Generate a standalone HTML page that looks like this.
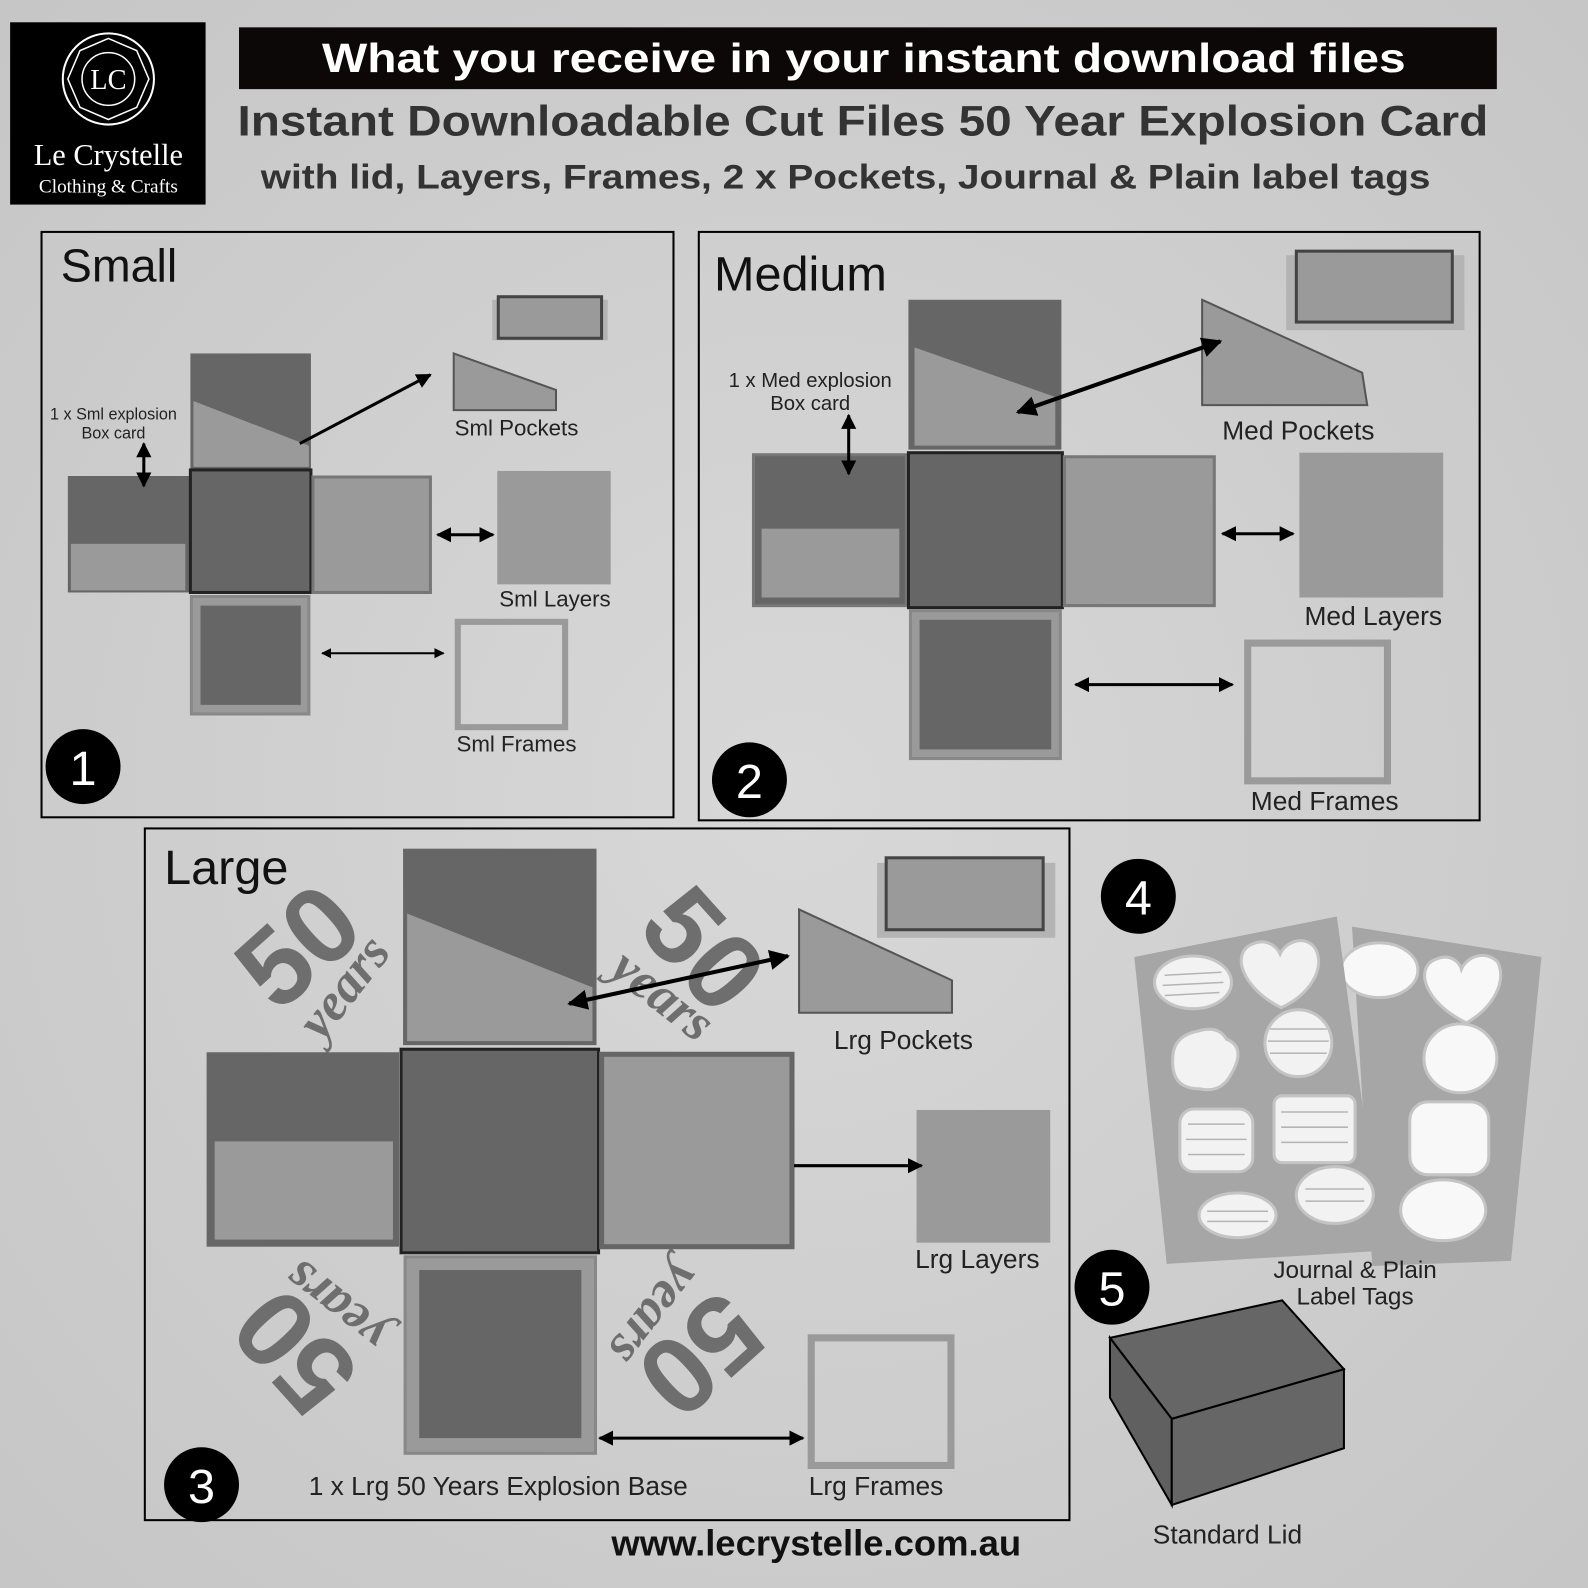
<!DOCTYPE html>
<html><head><meta charset="utf-8"><style>
html,body{margin:0;padding:0;background:#d3d3d3}
svg{display:block}
text{font-family:"Liberation Sans",Arial,sans-serif}
</style></head><body>
<svg width="1588" height="1588" viewBox="0 0 1568 1568" xmlns="http://www.w3.org/2000/svg" xmlns:xlink="http://www.w3.org/1999/xlink">
<defs>
<radialGradient id="bg" cx="50%" cy="50%" r="70%"><stop offset="0" stop-color="#d8d8d8"/><stop offset="1" stop-color="#c6c6c6"/></radialGradient>
<marker id="ah" viewBox="0 0 10 10" refX="9" refY="5" markerWidth="5" markerHeight="5" orient="auto-start-reverse"><path d="M0,0L10,5L0,10z" fill="#000"/></marker>
</defs>
<rect width="1568" height="1568" fill="url(#bg)"/>
<!-- logo -->
<rect x="10" y="22" width="193" height="180" fill="#000"/>
<circle cx="107" cy="78" r="45" fill="none" stroke="#fff" stroke-width="2"/>
<polygon points="107,38 135,50 147,78 135,106 107,118 79,106 67,78 79,50" fill="none" stroke="#fff" stroke-width="1.5"/>
<circle cx="107" cy="78" r="26" fill="none" stroke="#fff" stroke-width="1.5"/>
<text x="107" y="88" fill="#fff" font-size="28" text-anchor="middle" style="font-family:'Liberation Serif',serif">LC</text>
<text x="107" y="163" fill="#fff" font-size="30" text-anchor="middle" style="font-family:'Liberation Serif',serif">Le Crystelle</text>
<text x="107" y="190" fill="#fff" font-size="19" text-anchor="middle" style="font-family:'Liberation Serif',serif">Clothing &amp; Crafts</text>
<!-- titles -->
<rect x="236" y="27" width="1242" height="61" fill="#0c0808"/>
<text x="853" y="71" fill="#fff" font-size="40" font-weight="bold" text-anchor="middle" textLength="1070" lengthAdjust="spacingAndGlyphs">What you receive in your instant download files</text>
<text x="852" y="134" fill="#333" font-size="42" font-weight="bold" text-anchor="middle" textLength="1235" lengthAdjust="spacingAndGlyphs">Instant Downloadable Cut Files  50 Year Explosion Card</text>
<text x="835" y="186" fill="#333" font-size="34" font-weight="bold" text-anchor="middle" textLength="1155" lengthAdjust="spacingAndGlyphs">with lid, Layers, Frames, 2 x Pockets, Journal &amp; Plain label tags</text>

<g stroke-width="3">
<!-- SMALL -->
<rect x="41" y="229" width="624" height="578" fill="none" stroke="#000" stroke-width="2"/>
<text x="60" y="278" font-size="46" fill="#111">Small</text>
<rect x="188" y="349" width="119" height="115" fill="#666"/>
<polygon points="191,396 305,440 305,461 191,461" fill="#9a9a9a"/>
<rect x="67" y="470" width="120" height="115" fill="#666"/>
<rect x="70" y="537" width="113" height="46" fill="#9a9a9a"/>
<rect x="188" y="464" width="119" height="121" fill="#666" stroke="#222"/>
<rect x="309" y="471" width="116" height="114" fill="#9a9a9a" stroke="#777"/>
<rect x="189" y="589" width="116" height="116" fill="#9a9a9a" stroke="#888"/>
<rect x="198" y="598" width="99" height="98" fill="#666" stroke="none"/>
<rect x="486" y="296" width="114" height="40" fill="#b4b4b4" stroke="none"/>
<rect x="492" y="293" width="102" height="41" fill="#9a9a9a" stroke="#444"/>
<polygon points="448,349 549,385 549,405 448,405" fill="#9a9a9a" stroke="#555" stroke-width="2"/>
<rect x="491" y="465" width="112" height="112" fill="#9a9a9a" stroke="none"/>
<rect x="452" y="614" width="106" height="104" fill="none" stroke="#9a9a9a" stroke-width="6"/>
<line x1="296" y1="438" x2="425" y2="370" stroke="#000" marker-end="url(#ah)"/>
<line x1="142" y1="438" x2="142" y2="480" stroke="#000" marker-start="url(#ah)" marker-end="url(#ah)"/>
<line x1="432" y1="528" x2="487" y2="528" stroke="#000" marker-start="url(#ah)" marker-end="url(#ah)"/>
<line x1="318" y1="645" x2="438" y2="645" stroke="#000" stroke-width="2" marker-start="url(#ah)" marker-end="url(#ah)"/>
</g>
<text x="112" y="414" font-size="16" fill="#222" text-anchor="middle">1 x Sml explosion</text>
<text x="112" y="433" font-size="16" fill="#222" text-anchor="middle">Box card</text>
<text x="510" y="430" font-size="22" fill="#222" text-anchor="middle">Sml Pockets</text>
<text x="548" y="599" font-size="22" fill="#222" text-anchor="middle">Sml Layers</text>
<text x="510" y="742" font-size="22" fill="#222" text-anchor="middle">Sml Frames</text>
<circle cx="82" cy="757" r="37" fill="#000"/>
<text x="82" y="775" font-size="48" fill="#fff" text-anchor="middle">1</text>

<g stroke-width="3">
<!-- MEDIUM -->
<rect x="690" y="229" width="771" height="581" fill="none" stroke="#000" stroke-width="2"/>
<text x="705" y="287" font-size="48" fill="#111">Medium</text>
<rect x="897" y="296" width="151" height="148" fill="#666"/>
<polygon points="903,343 1042,392 1042,440 903,440" fill="#9a9a9a"/>
<rect x="744" y="449" width="151" height="149" fill="#666" stroke="#777"/>
<rect x="752" y="522" width="136" height="68" fill="#9a9a9a"/>
<rect x="897" y="447" width="152" height="153" fill="#666" stroke="#222"/>
<rect x="1051" y="451" width="148" height="147" fill="#9a9a9a" stroke="#777"/>
<rect x="899" y="603" width="148" height="146" fill="#9a9a9a" stroke="#888"/>
<rect x="908" y="612" width="130" height="128" fill="#666" stroke="none"/>
<rect x="1270" y="252" width="176" height="74" fill="#b4b4b4" stroke="none"/>
<rect x="1280" y="248" width="154" height="70" fill="#9a9a9a" stroke="#444"/>
<polygon points="1187,296 1345,368 1350,400 1187,400" fill="#9a9a9a" stroke="#555" stroke-width="2"/>
<rect x="1283" y="447" width="142" height="143" fill="#9a9a9a" stroke="none"/>
<rect x="1232" y="635" width="138" height="136" fill="none" stroke="#9a9a9a" stroke-width="7"/>
<line x1="1005" y1="407" x2="1205" y2="337" stroke="#000" stroke-width="4" marker-start="url(#ah)" marker-end="url(#ah)"/>
<line x1="838" y1="410" x2="838" y2="468" stroke="#000" marker-start="url(#ah)" marker-end="url(#ah)"/>
<line x1="1207" y1="527" x2="1277" y2="527" stroke="#000" marker-start="url(#ah)" marker-end="url(#ah)"/>
<line x1="1062" y1="676" x2="1217" y2="676" stroke="#000" marker-start="url(#ah)" marker-end="url(#ah)"/>
</g>
<text x="800" y="382" font-size="20" fill="#222" text-anchor="middle">1 x Med explosion</text>
<text x="800" y="405" font-size="20" fill="#222" text-anchor="middle">Box card</text>
<text x="1282" y="434" font-size="26" fill="#222" text-anchor="middle">Med Pockets</text>
<text x="1356" y="617" font-size="26" fill="#222" text-anchor="middle">Med Layers</text>
<text x="1308" y="800" font-size="26" fill="#222" text-anchor="middle">Med Frames</text>
<circle cx="740" cy="770" r="37" fill="#000"/>
<text x="740" y="788" font-size="48" fill="#fff" text-anchor="middle">2</text>

<!-- LARGE -->
<rect x="143" y="818" width="913" height="683" fill="none" stroke="#000" stroke-width="2"/>
<text x="162" y="873" font-size="48" fill="#111">Large</text>
<g id="deco" fill="#6e6e6e">
<text transform="translate(295,935) rotate(-42)" y="36" font-size="108" font-weight="bold" text-anchor="middle">50</text>
<text transform="translate(340,975) rotate(-52)" y="16" font-size="52" font-weight="bold" font-style="italic" text-anchor="middle" style="font-family:'Liberation Serif',serif">years</text>
</g>
<use xlink:href="#deco" href="#deco" transform="rotate(90 493 1136)"/>
<use xlink:href="#deco" href="#deco" transform="rotate(180 493 1136)"/>
<use xlink:href="#deco" href="#deco" transform="rotate(270 493 1136)"/>
<g stroke-width="3">
<rect x="398" y="838" width="191" height="194" fill="#666"/>
<polygon points="402,902 585,975 585,1028 402,1028" fill="#9a9a9a"/>
<rect x="204" y="1039" width="190" height="192" fill="#666"/>
<rect x="212" y="1127" width="176" height="97" fill="#9a9a9a"/>
<rect x="396" y="1036" width="195" height="201" fill="#666" stroke="#222"/>
<rect x="594" y="1041" width="188" height="190" fill="#9a9a9a" stroke="#666" stroke-width="5"/>
<rect x="400" y="1241" width="188" height="194" fill="#9a9a9a" stroke="#888"/>
<rect x="414" y="1254" width="160" height="166" fill="#666" stroke="none"/>
<rect x="866" y="852" width="176" height="74" fill="#b4b4b4" stroke="none"/>
<rect x="875" y="847" width="155" height="71" fill="#9a9a9a" stroke="#444"/>
<polygon points="789,898 940,968 940,1000 789,1000" fill="#9a9a9a" stroke="#555" stroke-width="2"/>
<rect x="905" y="1096" width="132" height="131" fill="#9a9a9a" stroke="none"/>
<rect x="801" y="1321" width="138" height="126" fill="none" stroke="#9a9a9a" stroke-width="7"/>
<line x1="562" y1="991" x2="778" y2="944" stroke="#000" stroke-width="4" marker-start="url(#ah)" marker-end="url(#ah)"/>
<line x1="784" y1="1151" x2="910" y2="1151" stroke="#000" marker-end="url(#ah)"/>
<line x1="592" y1="1420" x2="793" y2="1420" stroke="#000" marker-start="url(#ah)" marker-end="url(#ah)"/>
</g>
<text x="892" y="1036" font-size="26" fill="#222" text-anchor="middle">Lrg Pockets</text>
<text x="965" y="1252" font-size="26" fill="#222" text-anchor="middle">Lrg Layers</text>
<text x="865" y="1476" font-size="26" fill="#222" text-anchor="middle">Lrg Frames</text>
<text x="492" y="1476" font-size="26" fill="#222" text-anchor="middle">1 x Lrg 50 Years Explosion Base</text>
<circle cx="199" cy="1466" r="37" fill="#000"/>
<text x="199" y="1484" font-size="48" fill="#fff" text-anchor="middle">3</text>

<!-- tags -->
<circle cx="1124" cy="885" r="37" fill="#000"/>
<text x="1124" y="903" font-size="48" fill="#fff" text-anchor="middle">4</text>
<polygon points="1335,915 1522,945 1492,1245 1355,1250" fill="#a6a6a6"/>
<g fill="#f8f8f8" stroke="#c4c4c4" stroke-width="3">
<ellipse cx="1362" cy="958" rx="38" ry="27"/>
<path d="M1448,1010 C1406,990 1396,955 1418,947 C1432,941 1441,950 1443,957 C1448,945 1466,937 1479,950 C1488,970 1474,995 1448,1010z"/>
<ellipse cx="1442" cy="1045" rx="36" ry="34"/>
<rect x="1392" y="1088" width="78" height="72" rx="18"/>
<ellipse cx="1425" cy="1195" rx="42" ry="30"/>
</g>
<polygon points="1120,945 1320,905 1365,1235 1152,1248" fill="#a6a6a6"/>
<g fill="#f2f2f2" stroke="#c4c4c4" stroke-width="3">
<ellipse cx="1178" cy="970" rx="38" ry="26"/>
<path d="M1265,995 C1225,975 1215,940 1237,932 C1251,926 1261,935 1264,942 C1269,930 1289,922 1299,937 C1309,957 1293,982 1265,995z"/>
<path d="M1158,1045 q0,-22 25,-27 q20,-6 28,8 q20,8 5,34 q-10,20 -32,15 q-28,0 -26,-30z"/>
<circle cx="1282" cy="1030" r="33"/>
<rect x="1165" y="1095" width="72" height="62" rx="14"/>
<rect x="1258" y="1082" width="80" height="66" rx="8"/>
<ellipse cx="1222" cy="1200" rx="38" ry="22"/>
<ellipse cx="1318" cy="1180" rx="38" ry="28"/>
</g>
<g stroke="#b4b4b4" stroke-width="1.5">
<line x1="1150" y1="963" x2="1206" y2="960"/><line x1="1148" y1="973" x2="1208" y2="970"/><line x1="1150" y1="983" x2="1204" y2="980"/>
<line x1="1254" y1="1016" x2="1310" y2="1016"/><line x1="1252" y1="1028" x2="1312" y2="1028"/><line x1="1254" y1="1040" x2="1310" y2="1040"/>
<line x1="1173" y1="1110" x2="1229" y2="1110"/><line x1="1171" y1="1125" x2="1231" y2="1125"/><line x1="1173" y1="1140" x2="1229" y2="1140"/>
<line x1="1265" y1="1098" x2="1331" y2="1098"/><line x1="1265" y1="1113" x2="1331" y2="1113"/><line x1="1265" y1="1128" x2="1331" y2="1128"/>
<line x1="1192" y1="1196" x2="1252" y2="1196"/><line x1="1192" y1="1206" x2="1252" y2="1206"/>
<line x1="1289" y1="1174" x2="1347" y2="1174"/><line x1="1289" y1="1186" x2="1347" y2="1186"/>
</g>
<text x="1338" y="1262" font-size="24" fill="#222" text-anchor="middle">Journal &amp; Plain</text>
<text x="1338" y="1288" font-size="24" fill="#222" text-anchor="middle">Label Tags</text>

<!-- lid -->
<circle cx="1098" cy="1271" r="37" fill="#000"/>
<text x="1098" y="1289" font-size="48" fill="#fff" text-anchor="middle">5</text>
<polygon points="1096,1321 1266,1284 1327,1352 1157,1401" fill="#666" stroke="#000" stroke-width="2"/>
<polygon points="1096,1321 1157,1401 1157,1486 1096,1380" fill="#606060" stroke="#000" stroke-width="2"/>
<polygon points="1157,1401 1327,1352 1327,1430 1157,1486" fill="#666" stroke="#000" stroke-width="2"/>
<text x="1212" y="1524" font-size="26" fill="#222" text-anchor="middle">Standard Lid</text>
<text x="806" y="1536" font-size="36" font-weight="bold" fill="#111" text-anchor="middle">www.lecrystelle.com.au</text>
</svg>
</body></html>
